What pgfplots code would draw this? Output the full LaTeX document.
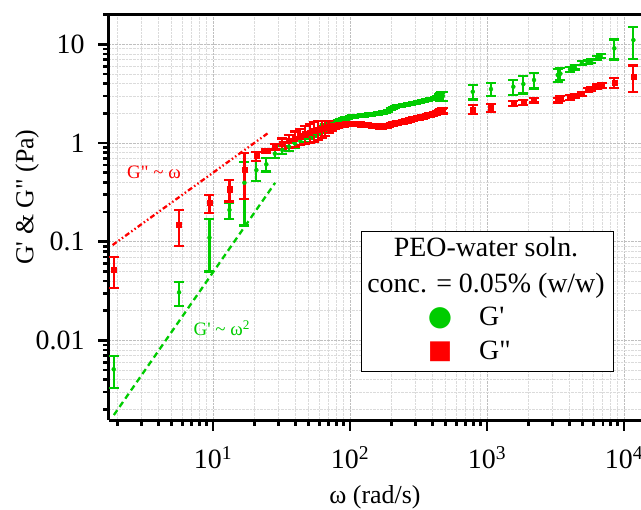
\documentclass[border=0pt]{standalone}
\usepackage{pgfplots}
\pgfplotsset{compat=1.18}
\usepackage{pgfplotstable}
\usepackage{fontspec}
\setmainfont{Liberation Serif}
\newfontfamily\dejavu{DejaVu Sans}
\definecolor{gc}{RGB}{0,204,0}
\definecolor{rc}{RGB}{255,0,0}
\newcommand{\sq}{\textquotesingle}
\newcommand{\dq}{\textquotedbl}

% G' (storage modulus): omega, value, error
\pgfplotstableread{
w g e
1.885 0.00509 0.0018
5.655 0.0307 0.0086
9.425 0.110 0.060
13.19 0.210 0.040
16.96 0.396 0.250
20.73 0.532 0.120
24.50 0.608 0.094
28.27 0.78 0.07
32.04 0.85 0.08
35.81 0.92 0.09
39.58 0.99 0.10
43.35 1.05 0.10
47.12 1.12 0.10
50.89 1.19 0.10
54.66 1.26 0.10
58.43 1.32 0.10
62.20 1.38 0.10
65.97 1.44 0.10
69.74 1.49 0.09
73.51 1.55 0.08
77.28 1.60 0.08
81.05 1.65 0.07
84.82 1.69 0.06
88.59 1.73 0.05
92.36 1.77 0.05
96.13 1.80 0.05
99.90 1.83 0.05
103.67 1.85 0.05
107.44 1.86 0.05
111.21 1.87 0.05
114.98 1.88 0.05
118.75 1.89 0.05
122.52 1.90 0.05
126.29 1.91 0.05
130.06 1.92 0.05
133.83 1.93 0.05
137.60 1.94 0.05
141.37 1.95 0.05
145.14 1.96 0.05
148.91 1.97 0.05
152.68 1.98 0.05
160.22 2.00 0.05
167.76 2.02 0.05
175.30 2.04 0.05
182.84 2.07 0.05
190.38 2.12 0.05
197.92 2.20 0.05
205.46 2.28 0.05
213.00 2.32 0.05
220.54 2.35 0.05
228.08 2.37 0.05
235.62 2.39 0.05
243.16 2.41 0.05
250.70 2.43 0.05
258.24 2.45 0.05
265.78 2.47 0.05
273.32 2.49 0.05
280.86 2.51 0.05
288.40 2.53 0.05
295.94 2.55 0.05
303.48 2.57 0.05
311.02 2.59 0.05
318.56 2.61 0.05
326.10 2.63 0.05
333.64 2.65 0.05
341.18 2.67 0.05
348.72 2.69 0.05
356.26 2.71 0.05
363.80 2.72 0.05
371.34 2.74 0.05
378.88 2.76 0.05
386.42 2.78 0.05
393.96 2.80 0.05
401.50 2.81 0.05
409.04 2.83 0.05
416.58 2.85 0.05
424.12 2.86 0.06
431.66 2.88 0.08
439.20 2.90 0.12
446.74 2.92 0.20
454.28 2.94 0.25
461.82 2.96 0.30
469.36 2.98 0.30
476.90 3.00 0.32
787 3.31 0.55
1069 3.52 0.50
1556 3.72 0.66
1841 3.96 0.78
2203 4.35 0.78
3281 4.89 0.75
3430 5.05 0.70
4036 5.58 0.30
4378 5.85 0.30
4916 6.42 0.30
5414 6.67 0.30
5729 6.82 0.30
6387 7.32 0.35
6757 7.61 0.35
8497 9.11 2.10
11700 11.06 4.00
}\gpdata

% G'' (loss modulus): omega, value, error
\pgfplotstableread{
w g e
1.885 0.0517 0.0177
5.655 0.150 0.060
9.425 0.247 0.050
13.19 0.340 0.085
16.96 0.532 0.260
20.73 0.738 0.075
24.50 0.830 0.030
28.27 0.92 0.06
32.04 0.99 0.12
35.81 1.05 0.15
39.58 1.11 0.20
43.35 1.17 0.22
47.12 1.23 0.25
50.89 1.28 0.28
54.66 1.33 0.30
58.43 1.37 0.30
62.20 1.40 0.28
65.97 1.43 0.25
69.74 1.46 0.20
73.51 1.48 0.15
77.28 1.50 0.12
81.05 1.52 0.10
84.82 1.53 0.08
88.59 1.54 0.06
92.36 1.55 0.05
96.13 1.56 0.05
99.90 1.56 0.05
103.67 1.56 0.05
107.44 1.56 0.05
111.21 1.56 0.05
114.98 1.56 0.05
118.75 1.55 0.05
122.52 1.55 0.05
126.29 1.54 0.05
130.06 1.54 0.05
133.83 1.53 0.05
137.60 1.52 0.05
141.37 1.51 0.05
145.14 1.50 0.05
148.91 1.50 0.05
152.68 1.49 0.05
160.22 1.48 0.05
167.76 1.48 0.05
175.30 1.47 0.05
182.84 1.49 0.05
190.38 1.51 0.05
197.92 1.54 0.05
205.46 1.57 0.05
213.00 1.59 0.05
220.54 1.61 0.05
228.08 1.62 0.05
235.62 1.63 0.05
243.16 1.65 0.05
250.70 1.66 0.05
258.24 1.68 0.05
265.78 1.70 0.05
273.32 1.72 0.05
280.86 1.74 0.05
288.40 1.76 0.05
295.94 1.77 0.05
303.48 1.79 0.05
311.02 1.80 0.05
318.56 1.82 0.05
326.10 1.83 0.05
333.64 1.85 0.05
341.18 1.86 0.05
348.72 1.87 0.05
356.26 1.89 0.05
363.80 1.91 0.05
371.34 1.92 0.05
378.88 1.94 0.05
386.42 1.95 0.05
393.96 1.96 0.05
401.50 1.98 0.05
409.04 1.99 0.05
416.58 2.00 0.05
424.12 2.02 0.06
431.66 2.03 0.07
439.20 2.05 0.08
446.74 2.06 0.10
454.28 2.08 0.12
461.82 2.09 0.12
469.36 2.11 0.13
476.90 2.13 0.14
787 2.19 0.23
1069 2.28 0.20
1556 2.52 0.15
1841 2.56 0.15
2203 2.73 0.15
3281 2.73 0.15
3430 2.84 0.15
4036 2.90 0.15
4378 2.99 0.15
4916 3.14 0.15
5414 3.44 0.15
5729 3.52 0.15
6387 3.72 0.20
6900 3.84 0.20
8497 4.08 0.45
11690 4.70 1.40
}\gppdata

\begin{document}
\begin{tikzpicture}
\begin{axis}[
  at={(0,0)}, anchor=south west,
  scale only axis, width=532bp, height=406bp,
  xmode=log, ymode=log,
  xmin=1.742, xmax=13300, ymin=0.00156, ymax=20.3,
  axis x line*=box, axis y line*=left,
  axis line style={line width=3bp, -},
  xtick pos=left, ytick pos=left,
  tick align=outside,
  major tick length=11bp, minor tick length=6bp,
  tick style={black, line width=2.6bp},
  xtick={10,100,1000,10000},
  xticklabels={10\textsuperscript{1},10\textsuperscript{2},10\textsuperscript{3},10\textsuperscript{4}},
  minor xtick={2,3,4,5,6,7,8,9,20,30,40,50,60,70,80,90,200,300,400,500,600,700,800,900,2000,3000,4000,5000,6000,7000,8000,9000},
  ytick={0.01,0.1,1,10},
  yticklabels={0.01,0.1,1,10},
  minor ytick={0.002,0.003,0.004,0.005,0.006,0.007,0.008,0.009,0.02,0.03,0.04,0.05,0.06,0.07,0.08,0.09,0.2,0.3,0.4,0.5,0.6,0.7,0.8,0.9,2,3,4,5,6,7,8,9,20},
  grid=both,
  major grid style={densely dotted, line width=0.8bp, black!25},
  minor grid style={densely dotted, line width=0.8bp, black!14},
  tick label style={font=\fontsize{28}{32}\selectfont},
  xticklabel style={yshift=-12bp},
  yticklabel style={xshift=-10bp},
  label style={font=\fontsize{26}{30}\selectfont},
  xlabel={ω (rad/s)},
  ylabel={G\sq{} \& G\dq{} (Pa)},
  xlabel style={at={(axis description cs:0.5,-0.19)}, anchor=center},
  ylabel style={at={(axis description cs:-0.154,0.549)}, anchor=center},
]
% power-law guide lines
\addplot[gc, line width=2.3bp, dash pattern=on 6bp off 4bp] coordinates {(1.89,0.00175) (28.4,0.395)};
\addplot[rc, line width=2.3bp, dash pattern=on 5bp off 2.5bp on 1.5bp off 2.5bp on 1.5bp off 2.5bp] coordinates {(1.85,0.0925) (25,1.25)};

\addplot[gc, only marks, mark=*, mark size=2bp,
  error bars/.cd, y dir=both, y explicit,
  error bar style={line width=2.2bp, gc},
  error mark options={rotate=90, mark size=5bp, line width=2.2bp, gc}]
  table[x=w, y=g, y error=e] {\gpdata};
\addplot[rc, only marks, mark=square*, mark size=2.6bp,
  error bars/.cd, y dir=both, y explicit,
  error bar style={line width=2.2bp, rc},
  error mark options={rotate=90, mark size=5bp, line width=2.2bp, rc}]
  table[x=w, y=g, y error=e] {\gppdata};

\node[text=rc, font=\fontsize{19}{22}\selectfont] at (axis cs:3.71,0.508) {G\dq{} \textasciitilde{} ω};
\node[text=gc, font=\fontsize{19}{22}\selectfont] at (axis cs:11.6,0.0134) {G\sq{} \textasciitilde{} ω\textsuperscript{2}};
\end{axis}
% legend
\node[draw=black, line width=1.2bp, fill=white, minimum width=252bp, minimum height=140bp, inner sep=0pt, anchor=south west] at (252bp,48bp) {};
\node[anchor=base, inner sep=0pt, font=\fontsize{28}{32}\selectfont] at (377bp,163bp) {PEO-water soln.};
\node[anchor=base, inner sep=0pt, font=\fontsize{28}{32}\selectfont] at (377bp,127bp) {conc. = 0.05\% (w/w)};
\node[anchor=base west, inner sep=0pt, font=\fontsize{28}{32}\selectfont] at (370bp,94bp) {G\sq};
\node[anchor=base west, inner sep=0pt, font=\fontsize{28}{32}\selectfont] at (370bp,60bp) {G\dq};
\node[text=gc, inner sep=0pt, font=\dejavu\fontsize{28}{28}\selectfont] at (331bp,102bp) {●};
\node[text=rc, inner sep=0pt, font=\dejavu\fontsize{26}{26}\selectfont] at (331bp,68bp) {■};
\pgfresetboundingbox
\path[use as bounding box] (-109bp,-90bp) rectangle (532bp,420bp);
\end{tikzpicture}
\end{document}
